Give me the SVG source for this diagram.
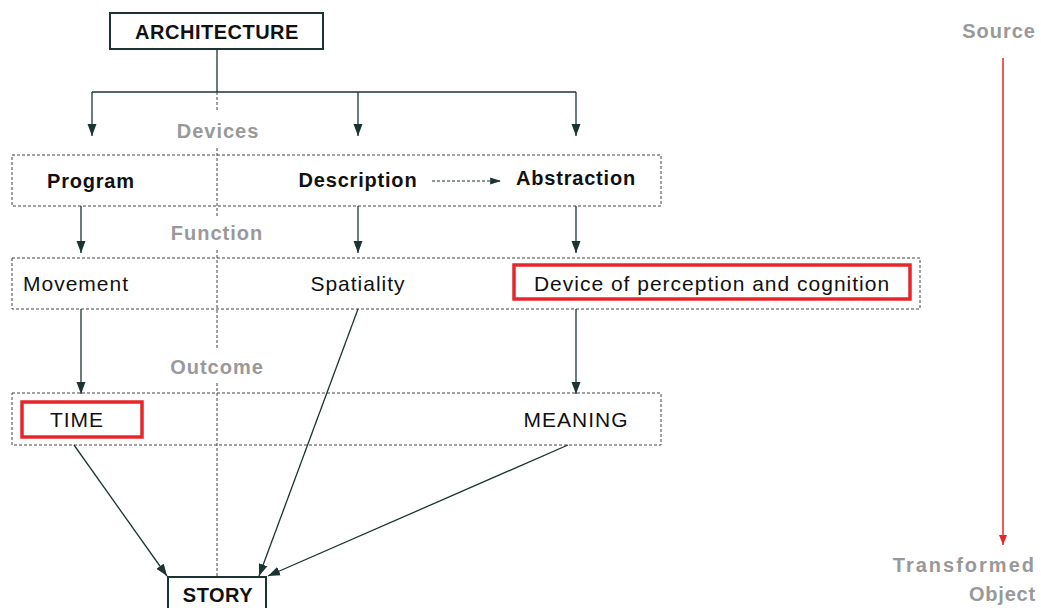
<svg xmlns="http://www.w3.org/2000/svg" width="1041" height="608" viewBox="0 0 1041 608">
<style>
.t{font-family:"Liberation Sans",Arial,sans-serif;fill:#111;font-size:21px;letter-spacing:1px}
.b{font-weight:bold;font-size:20px;letter-spacing:0.8px}
.g{font-family:"Liberation Sans",Arial,sans-serif;font-weight:bold;fill:#999;font-size:20px;letter-spacing:1px}
.dbox{fill:none;stroke:#444;stroke-width:1;stroke-dasharray:3,2}
.solid{fill:#fff;stroke:#1c3333;stroke-width:2}
.red{fill:none;stroke:#e8262a;stroke-width:3.5}
.c{fill:none;stroke:#1c3333;stroke-width:1.3}
.dv{fill:none;stroke:#444;stroke-width:1;stroke-dasharray:3,2}
</style>
<defs>
<marker id="ah" viewBox="0 0 12 10" refX="12" refY="5" markerWidth="12" markerHeight="10" markerUnits="userSpaceOnUse" orient="auto">
<path d="M0,0.5 L12,5 L0,9.5 z" fill="#1c3333"/>
</marker>
<marker id="ahs" viewBox="0 0 12 10" refX="12" refY="5" markerWidth="12" markerHeight="9" markerUnits="userSpaceOnUse" orient="auto">
<path d="M0,1 L12,5 L0,9 z" fill="#1c3333"/>
</marker>
<marker id="ahr" viewBox="0 0 10 10" refX="10" refY="5" markerWidth="12" markerHeight="10" markerUnits="userSpaceOnUse" orient="auto">
<path d="M0,1 L10,5 L0,9 z" fill="#e8262a"/>
</marker>
</defs>

<g id="stage-labels">
<text class="g" x="218" y="138" text-anchor="middle">Devices</text>
<text class="g" x="217" y="240" text-anchor="middle">Function</text>
<text class="g" x="217" y="374" text-anchor="middle">Outcome</text>
</g>

<g id="divider">
<line class="dv" x1="217" y1="92" x2="217" y2="110"/>
<line class="dv" x1="217" y1="148" x2="217" y2="216"/>
<line class="dv" x1="217" y1="250" x2="217" y2="350"/>
<line class="dv" x1="217" y1="383" x2="217" y2="577"/>
</g>

<g id="devices-row"><rect class="dbox" x="12" y="155" width="649" height="51"/></g>
<g id="function-row"><rect class="dbox" x="12" y="258" width="908" height="51"/></g>
<g id="outcome-row"><rect class="dbox" x="12" y="393" width="649" height="52"/></g>

<g id="architecture">
<rect class="solid" x="110" y="13" width="213" height="36"/>
<text class="t b" x="217" y="39" text-anchor="middle" style="letter-spacing:0.5px">ARCHITECTURE</text>
</g>
<g id="program"><text class="t b" x="47" y="188">Program</text></g>
<g id="description"><text class="t b" x="358" y="187" text-anchor="middle">Description</text></g>
<g id="abstraction"><text class="t b" x="576" y="185" text-anchor="middle">Abstraction</text></g>
<g id="movement"><text class="t" x="23" y="291">Movement</text></g>
<g id="spatiality"><text class="t" x="358" y="291" text-anchor="middle">Spatiality</text></g>
<g id="device-perception">
<rect class="red" x="514" y="265" width="396" height="34"/>
<text class="t" x="712" y="291" text-anchor="middle">Device of perception and cognition</text>
</g>
<g id="time">
<rect class="red" x="22" y="402" width="120" height="35"/>
<text class="t" x="77" y="427" text-anchor="middle">TIME</text>
</g>
<g id="meaning"><text class="t" x="576" y="427" text-anchor="middle">MEANING</text></g>
<g id="story">
<rect class="solid" x="168" y="577" width="98" height="36"/>
<text class="t b" x="218" y="602" text-anchor="middle" style="letter-spacing:0.5px">STORY</text>
</g>

<g id="axis">
<text class="g" x="1036" y="38" text-anchor="end">Source</text>
<line x1="1003" y1="58" x2="1003" y2="545" stroke="#e8262a" stroke-width="1.5" marker-end="url(#ahr)"/>
<text class="g" x="1036" y="572" text-anchor="end" style="letter-spacing:2px">Transformed</text>
<text class="g" x="1036" y="601" text-anchor="end" style="letter-spacing:0.8px">Object</text>
</g>

<g id="connectors">
<polyline class="c" points="217,49 217,92"/>
<polyline class="c" points="92,92 576,92"/>
<line class="c" x1="92" y1="92" x2="92" y2="136" marker-end="url(#ah)"/>
<line class="c" x1="358" y1="92" x2="358" y2="136" marker-end="url(#ah)"/>
<line class="c" x1="576" y1="92" x2="576" y2="136" marker-end="url(#ah)"/>
<line x1="432" y1="181" x2="501" y2="181" stroke="#1c3333" stroke-width="1" stroke-dasharray="3,2" marker-end="url(#ahs)"/>
<line class="c" x1="81" y1="206" x2="81" y2="253" marker-end="url(#ah)"/>
<line class="c" x1="358" y1="206" x2="358" y2="253" marker-end="url(#ah)"/>
<line class="c" x1="576" y1="206" x2="576" y2="253" marker-end="url(#ah)"/>
<line class="c" x1="81" y1="309" x2="81" y2="394" marker-end="url(#ah)"/>
<line class="c" x1="576" y1="309" x2="576" y2="394" marker-end="url(#ah)"/>
<line class="c" x1="74" y1="445" x2="167" y2="576" marker-end="url(#ah)"/>
<line class="c" x1="358" y1="309" x2="259" y2="576" marker-end="url(#ah)"/>
<line class="c" x1="568" y1="445" x2="268" y2="576" marker-end="url(#ah)"/>
</g>
</svg>
